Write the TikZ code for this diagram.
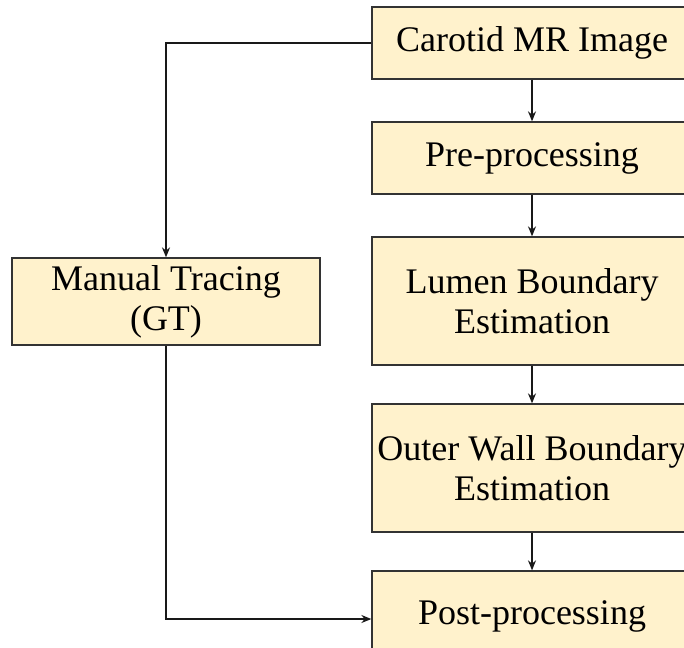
\documentclass[tikz,border=0pt]{standalone}
\usepackage{fontspec}
\setmainfont{Liberation Serif}
\usetikzlibrary{arrows.meta}
\definecolor{boxfill}{HTML}{FFF2CC}
\definecolor{boxline}{HTML}{333333}
\begin{document}
\begin{tikzpicture}[x=1pt,y=-1pt,
  stage/.style={draw=boxline, fill=boxfill, line width=1.3pt, inner sep=0pt,
    align=center, font=\fontsize{36}{40}\selectfont, text=black},
  link/.style={draw=black!90, line width=1.3pt, -{Stealth[length=10pt,width=8pt]}}]
  \useasboundingbox (0,0) rectangle (684,647);
  \clip (0,0) rectangle (684,647);
  % main pipeline
  \node[stage, minimum width=320pt, minimum height=72pt]  (img)   at (532,43)  {Carotid MR Image};
  \node[stage, minimum width=320pt, minimum height=72pt]  (pre)   at (532,158) {Pre-processing};
  \node[stage, minimum width=320pt, minimum height=128pt] (lumen) at (532,301) {Lumen Boundary\\Estimation};
  \node[stage, minimum width=320pt, minimum height=128pt] (outer) at (532,468) {Outer Wall Boundary\\Estimation};
  \node[stage, minimum width=320pt, minimum height=90pt]  (post)  at (532,616) {Post-processing};
  % ground-truth branch
  \node[stage, minimum width=308pt, minimum height=87pt]  (gt)    at (166,301.5) {Manual Tracing\\(GT)};
  % connectors
  \draw[link] (img) -- (pre);
  \draw[link] (pre) -- (lumen);
  \draw[link] (lumen) -- (outer);
  \draw[link] (outer) -- (post);
  \draw[link] (img.west) -| (gt.north);
  \draw[link] (gt.south) |- ([yshift=-3pt]post.west);
\end{tikzpicture}
\end{document}
